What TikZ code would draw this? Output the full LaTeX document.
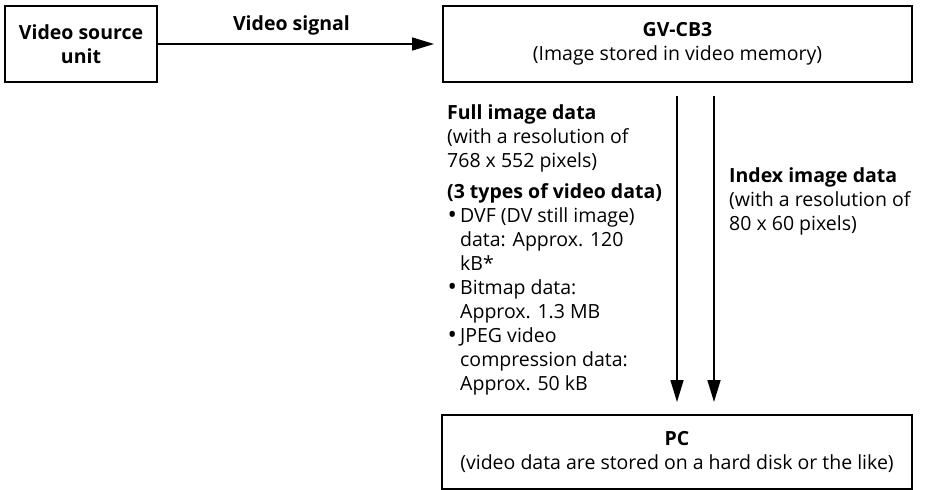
\documentclass[tikz,border=0pt]{standalone}
\usepackage{fontspec}
\setmainfont{Open Sans}
\usetikzlibrary{arrows.meta, positioning}
\newcommand{\bitem}{\makebox[13pt][l]{\hspace*{0.5pt}\raisebox{-1.5pt}{\fontsize{25}{24}\selectfont\textbullet}}}
\newcommand{\bgap}{\hspace*{13pt}}
\tikzset{
    unitbox/.style={draw, line width=2pt, align=center, inner sep=0pt,
        font=\fontsize{19.5}{24}\selectfont},
    flowarrow/.style={-{Triangle[length=22pt, width=13pt]}, line width=1.6pt},
    notetext/.style={align=left, inner sep=0pt, anchor=north west,
        font=\fontsize{19.5}{24}\selectfont}
}

\begin{document}
\begin{tikzpicture}[x=1pt, y=-1pt]
    \useasboundingbox (0,0) rectangle (927,490);

    % Units
    \node[unitbox, minimum width=152pt, minimum height=76pt] (src) at (81,44)
        {\textbf{Video source}\\\textbf{unit}};
    \node[unitbox, minimum width=469pt, minimum height=76pt] (cb3) at (677.5,44)
        {\textbf{GV-CB3}\\(Image stored in video memory)};
    \node[unitbox, minimum width=470pt, minimum height=74pt] (pc) at (677,452)
        {\textbf{PC}\\(video data are stored on a hard disk or the like)};

    % Signal from the source
    \draw[flowarrow, shorten >=8pt] (src.east) -- node[pos=0.47, above=5pt, font=\fontsize{19.5}{24}\selectfont] (sig) {\textbf{Video signal}} (cb3.west);

    % Data paths to the PC
    \coordinate (full) at (677,0);
    \coordinate (index) at (714,0);
    \draw[flowarrow, shorten <=13pt, shorten >=12pt] (cb3.south -| full) -- (pc.north -| full);
    \draw[flowarrow, shorten <=13pt, shorten >=12pt] (cb3.south -| index) -- (pc.north -| index);

    % Notes
    \node[notetext] (fulltxt) at (447,104) {\textbf{Full image data}\\
        (with a resolution of\\
        768 x 552 pixels)\\[7pt]
        \textbf{(3 types of video data)}\\
        \bitem DVF (DV still image)\\
        \bgap data: Approx. 120\\
        \bgap kB*\\
        \bitem Bitmap data:\\
        \bgap Approx. 1.3 MB\\
        \bitem JPEG video\\
        \bgap compression data:\\
        \bgap Approx. 50 kB};
    \node[notetext] (indextxt) at (729,167) {\textbf{Index image data}\\
        (with a resolution of\\
        80 x 60 pixels)};
\end{tikzpicture}
\end{document}
